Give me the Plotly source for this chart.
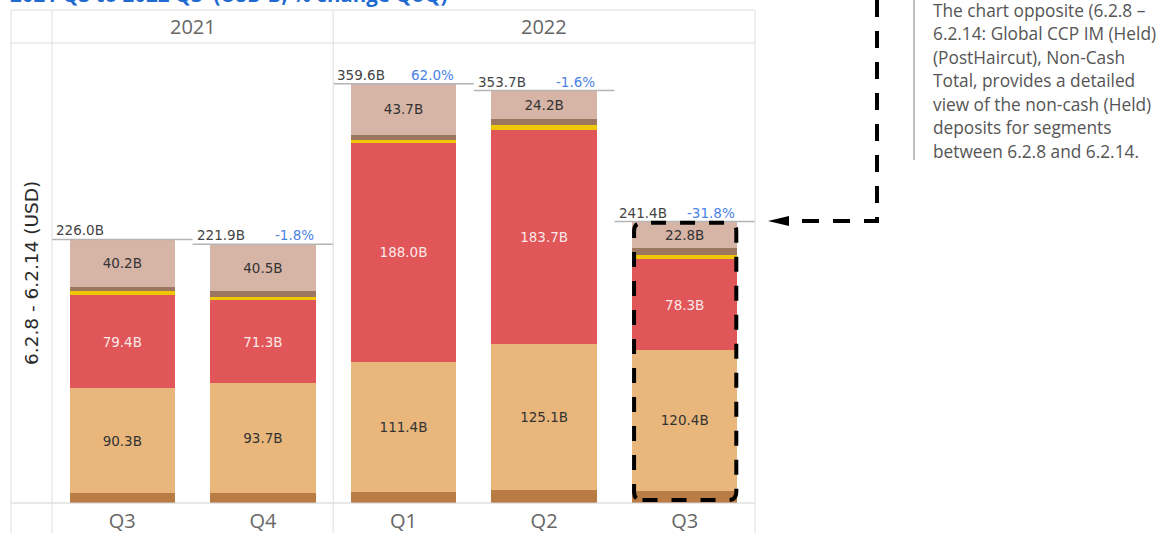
import plotly.graph_objects as go

# ---------------- data ----------------
quarters = ["Q3", "Q4", "Q1", "Q2", "Q3"]
years = ["2021", "2022"]
year_slots = [2, 3]
seg_base = [8.3, 9.0, 9.5, 11.0, 10.6]          # dark orange (bottom)
seg_main = [90.3, 93.7, 111.4, 125.1, 120.4]    # light orange
seg_red = [79.4, 71.3, 188.0, 183.7, 78.3]      # red
seg_yellow = [3.6, 3.0, 2.6, 4.0, 3.0]          # yellow (thin)
seg_brown = [3.9, 4.4, 4.4, 5.7, 6.3]           # brown (thin)
seg_top = [40.2, 40.5, 43.7, 24.2, 22.8]        # light pink-brown
totals = [226.0, 221.9, 359.6, 353.7, 241.4]
pct_change = ["", "-1.8%", "62.0%", "-1.6%", "-31.8%"]
highlight_index = 4

title_text = "2021 Q3 to 2022 Q3  (USD B, % change QoQ)"
y_title = "6.2.8 - 6.2.14 (USD)"
note_lines = [
    "The chart opposite (6.2.8 \u2013",
    "6.2.14: Global CCP IM (Held)",
    "(PostHaircut), Non-Cash",
    "Total, provides a detailed",
    "view of the non-cash (Held)",
    "deposits for segments",
    "between 6.2.8 and 6.2.14.",
]

# ---------------- geometry helpers (pixel -> paper) ----------------
W, H = 1166, 533
ML, MR, MT, MB = 52, 411, 43, 30
PW, PH = W - ML - MR, H - MT - MB


def px(xp):
    return (xp - ML) / PW


def py(yp):
    return (H - MB - yp) / PH


x_idx = list(range(len(quarters)))
BAR_W = 0.75
LBL_FONT = "DejaVu Sans"

fig = go.Figure()


def add_seg(vals, color, show_text=False, txt_color="#333333"):
    fig.add_trace(go.Bar(
        x=x_idx, y=vals, width=BAR_W,
        marker=dict(color=color, line=dict(width=0)),
        text=[f"{v:.1f}B" for v in vals] if show_text else None,
        textposition="inside" if show_text else "none",
        insidetextanchor="middle", textangle=0,
        textfont=dict(family=LBL_FONT, size=13.5, color=txt_color),
        hoverinfo="skip", showlegend=False,
    ))


add_seg(seg_base, "#B97C45")
add_seg(seg_main, "#E9B77C", True, "#333333")
add_seg(seg_red, "#E15759", True, "rgba(255,255,255,0.88)")
add_seg(seg_yellow, "#F0C808")
add_seg(seg_brown, "#9D7660")
add_seg(seg_top, "#D7B5A6", True, "#333333")

shapes = []
annotations = []

# total lines + labels
for i, t in enumerate(totals):
    shapes.append(dict(type="line", xref="x", yref="y", x0=i - 0.5, x1=i + 0.5,
                       y0=t, y1=t, line=dict(color="#b5b5b5", width=1.5)))
    annotations.append(dict(x=i - 0.5 + 0.015, y=t, xref="x", yref="y",
                            text=f"{t:.1f}B", showarrow=False, xanchor="left",
                            yanchor="bottom", yshift=-1,
                            font=dict(family=LBL_FONT, size=13.5, color="#444444")))
    if pct_change[i]:
        annotations.append(dict(x=i + BAR_W / 2, y=t, xref="x", yref="y",
                                text=pct_change[i], showarrow=False, xanchor="right",
                                yanchor="bottom", yshift=-1,
                                font=dict(family=LBL_FONT, size=13.5, color="#4a82e6")))

# frame / grid of the table layout
grey = "#dedede"
top_y = py(10)
bot_y = py(H)
for yy in [top_y, 1.0]:
    shapes.append(dict(type="line", xref="paper", yref="paper", x0=px(11), x1=1.0,
                       y0=yy, y1=yy, line=dict(color=grey, width=1)))
shapes.append(dict(type="line", xref="paper", yref="paper", x0=px(11), x1=1.0,
                   y0=0, y1=0, line=dict(color="#d0d0d0", width=1)))
cum = 0
vlines = [px(11), 0.0]
for s in year_slots:
    cum += s
    vlines.append(cum / len(quarters))
for xx in vlines:
    shapes.append(dict(type="line", xref="paper", yref="paper", x0=xx, x1=xx,
                       y0=bot_y, y1=top_y, line=dict(color=grey, width=1)))

# year headers
cum = 0
for yr, s in zip(years, year_slots):
    annotations.append(dict(x=(cum + s / 2) / len(quarters), y=py(26), xref="paper", yref="paper",
                            text=yr, showarrow=False, xanchor="center", yanchor="middle",
                            font=dict(family="Open Sans", size=20, color="#666666")))
    cum += s

# highlight rounded dashed rectangle around last bar
hi = highlight_index
x0, x1 = hi - BAR_W / 2 + 0.015, hi + BAR_W / 2 - 0.008
y0, y1 = 2.5, totals[hi] - 1.0
rx, ry = 0.06, 7.0
path = (f"M {x0+rx},{y0} L {x1-rx},{y0} Q {x1},{y0} {x1},{y0+ry} "
        f"L {x1},{y1-ry} Q {x1},{y1} {x1-rx},{y1} L {x0+rx},{y1} "
        f"Q {x0},{y1} {x0},{y1-ry} L {x0},{y0+ry} Q {x0},{y0} {x0+rx},{y0} Z")
shapes.append(dict(type="path", xref="x", yref="y", path=path,
                   line=dict(color="black", width=4, dash="15px,14px")))

# dashed connector arrow
arrow_y = py(221)
shapes.append(dict(type="path", xref="paper", yref="paper",
                   path=f"M {px(877)},{py(0)} L {px(877)},{arrow_y} L {px(787)},{arrow_y}",
                   line=dict(color="black", width=4, dash="17px,14px")))
shapes.append(dict(type="path", xref="paper", yref="paper",
                   path=f"M {px(768)},{arrow_y} L {px(789)},{py(216)} L {px(789)},{py(226)} Z",
                   fillcolor="black", line=dict(color="black", width=0)))

# note separator and text
shapes.append(dict(type="line", xref="paper", yref="paper", x0=px(914), x1=px(914),
                   y0=py(0), y1=py(160), line=dict(color="#aaaaaa", width=1.5)))
for k, line in enumerate(note_lines):
    annotations.append(dict(x=px(931), y=py(10 + 23.5 * k), xref="paper", yref="paper",
                            text=line, showarrow=False, xanchor="left", yanchor="middle",
                            font=dict(family="Open Sans", size=17.3, color="#555555")))

# y title
annotations.append(dict(x=px(31), y=0.5, xref="paper", yref="paper", text=y_title,
                        showarrow=False, textangle=-90, xanchor="center", yanchor="middle",
                        font=dict(family="DejaVu Sans", size=18.5, color="#2a2a2a")))

# cut-off title at very top
annotations.append(dict(x=px(8), y=py(10), xref="paper", yref="paper",
                        text=f"<b>{title_text}</b>", showarrow=False,
                        xanchor="left", yanchor="bottom",
                        font=dict(family="Open Sans", size=20.5, color="#1f6bd1")))

fig.update_layout(
    width=W, height=H, autosize=False,
    margin=dict(l=ML, r=MR, t=MT, b=MB, pad=0, autoexpand=False),
    barmode="stack",
    plot_bgcolor="white", paper_bgcolor="white",
    xaxis=dict(range=[-0.5, 4.5], tickvals=x_idx, ticktext=quarters, automargin=False,
               showgrid=False, zeroline=False, showline=False, ticks="",
               ticklabelstandoff=4,
               tickfont=dict(family="Open Sans", size=20, color="#666666")),
    yaxis=dict(range=[0, PH / 1.166], visible=False, fixedrange=True, automargin=False),
    shapes=shapes, annotations=annotations,
    showlegend=False,
)

fig.write_html("out.html", config={"displayModeBar": False},
               post_script="document.body.style.margin='0';")
